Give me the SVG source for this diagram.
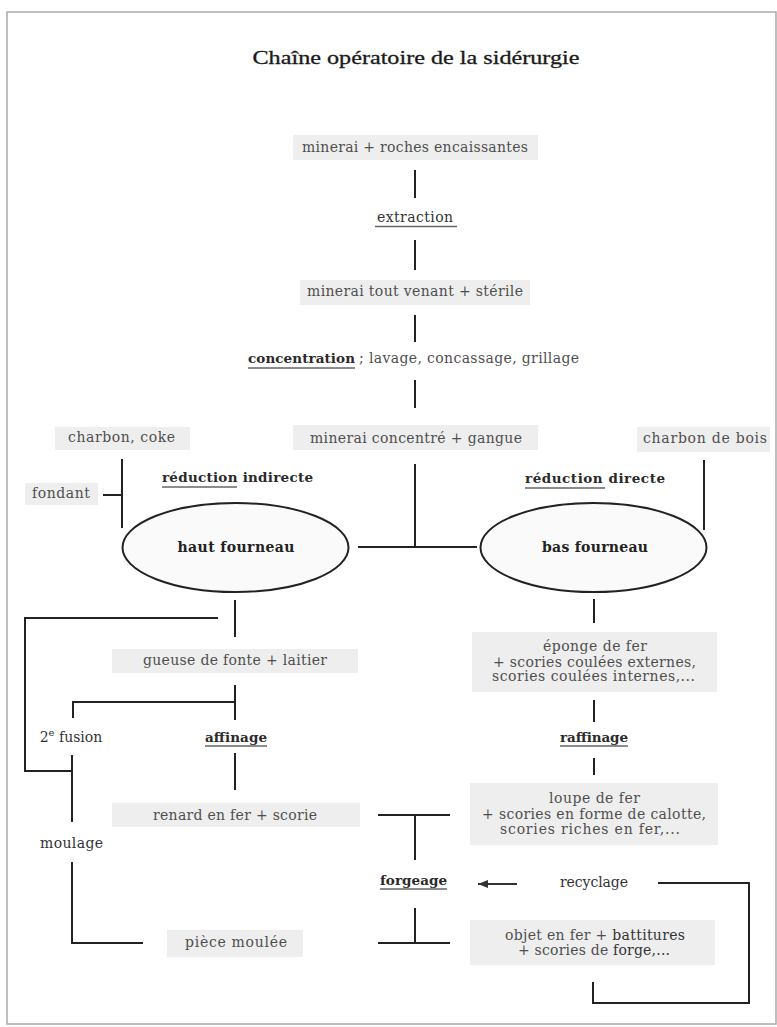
<svg xmlns="http://www.w3.org/2000/svg" width="777" height="1027" viewBox="0 0 777 1027">
<defs>
<style>
.bx{fill:#eeeeee}
.t{font-family:"DejaVu Serif",serif;font-size:14px;fill:#4f4f4f;text-anchor:middle}
.d{font-family:"DejaVu Serif",serif;font-size:14px;fill:#333;text-anchor:middle}
.b{font-family:"DejaVu Serif",serif;font-size:13.5px;fill:#2a2a2a;font-weight:bold;text-anchor:middle}
.e{font-family:"DejaVu Serif",serif;font-size:14px;fill:#222;font-weight:bold;text-anchor:middle}
.ln{stroke:#222;stroke-width:2;fill:none}
.ul{stroke:#666;stroke-width:1.5}
.el{fill:#fafafa;stroke:#222;stroke-width:2}
</style>
<marker id="ah" markerWidth="10" markerHeight="8" refX="10" refY="4" orient="auto" markerUnits="userSpaceOnUse">
<path d="M0,0 L10,4 L0,8 Z" fill="#333"/>
</marker>
</defs>
<rect width="777" height="1027" fill="#fff"/>
<rect x="7" y="12" width="769" height="1012" fill="none" stroke="#aaa" stroke-width="1.5"/>
<text x="416" y="64" font-family="Liberation Serif,serif" font-size="19" fill="#1a1a1a" stroke="#1a1a1a" stroke-width="0.3" text-anchor="middle" textLength="327" lengthAdjust="spacingAndGlyphs">Chaîne opératoire de la sidérurgie</text>

<g id="connectors">
<line class="ln" x1="415" y1="170" x2="415" y2="198"/>
<line class="ln" x1="415" y1="240" x2="415" y2="270"/>
<line class="ln" x1="415" y1="315" x2="415" y2="342"/>
<line class="ln" x1="415" y1="380" x2="415" y2="408"/>
<path class="ln" d="M415,464 V547 M358,547 H477"/>
<path class="ln" d="M103,495 H122 M122,459 V528"/>
<line class="ln" x1="704" y1="460" x2="704" y2="530"/>
<line class="ln" x1="235" y1="600" x2="235" y2="637"/>
<path class="ln" d="M218,618 H25 V771 H72"/>
<line class="ln" x1="235" y1="685" x2="235" y2="720"/>
<path class="ln" d="M235,702 H73 V718"/>
<line class="ln" x1="235" y1="753" x2="235" y2="790"/>
<line class="ln" x1="72" y1="755" x2="72" y2="822"/>
<path class="ln" d="M72,862 V943 H143"/>
<line class="ln" x1="594" y1="599" x2="594" y2="623"/>
<line class="ln" x1="594" y1="700" x2="594" y2="722"/>
<line class="ln" x1="594" y1="758" x2="594" y2="775"/>
<path class="ln" d="M378,815 H450 M415,815 V860"/>
<path class="ln" d="M415,908 V943 M378,943 H450"/>
<line x1="517" y1="884" x2="478" y2="884" stroke="#333" stroke-width="2" marker-end="url(#ah)"/>
<path class="ln" d="M658,883 H749 V1003 H593 V982"/>
</g>

<g id="n-minerai-roches"><rect class="bx" x="293" y="135" width="245" height="25"/><text class="t" x="415" y="152" textLength="226">minerai + roches encaissantes</text></g>
<g id="n-extraction"><text class="d" x="415" y="222" textLength="76">extraction</text><line class="ul" x1="375" y1="226.5" x2="457" y2="226.5"/></g>
<g id="n-tout-venant"><rect class="bx" x="300" y="280" width="230" height="25"/><text class="t" x="415" y="296" textLength="216">minerai tout venant + stérile</text></g>
<g id="n-concentration"><text class="b" x="301.5" y="363" textLength="107">concentration</text><line class="ul" x1="248" y1="368" x2="355" y2="368"/><text class="t" x="469" y="363" textLength="220">; lavage, concassage, grillage</text></g>
<g id="n-minerai-concentre"><rect class="bx" x="293" y="425" width="245" height="25"/><text class="t" x="416" y="443" textLength="212">minerai concentré + gangue</text></g>
<g id="n-charbon-coke"><rect class="bx" x="55" y="427" width="135" height="23"/><text class="t" x="121.5" y="442" textLength="107">charbon, coke</text></g>
<g id="n-charbon-bois"><rect class="bx" x="637" y="427" width="133" height="25"/><text class="t" x="705" y="443" textLength="124">charbon de bois</text></g>
<g id="n-fondant"><rect class="bx" x="25" y="483" width="73" height="22"/><text class="t" x="61" y="498" textLength="58">fondant</text></g>
<g id="n-reduction-indirecte"><text class="b" x="237.5" y="482" textLength="151">réduction indirecte</text><line class="ul" x1="162" y1="487" x2="237" y2="487"/></g>
<g id="n-reduction-directe"><text class="b" x="595" y="483" textLength="140">réduction directe</text><line class="ul" x1="525" y1="488" x2="605" y2="488"/></g>
<g id="n-haut-fourneau"><ellipse class="el" cx="235.5" cy="547.5" rx="113" ry="44.5"/><text class="e" x="236" y="552" textLength="117">haut fourneau</text></g>
<g id="n-bas-fourneau"><ellipse class="el" cx="593.5" cy="547.5" rx="113" ry="44.5"/><text class="e" x="595" y="552" textLength="106">bas fourneau</text></g>
<g id="n-gueuse"><rect class="bx" x="112" y="649" width="246" height="24"/><text class="t" x="235" y="665" textLength="184">gueuse de fonte + laitier</text></g>
<g id="n-2e-fusion"><text class="d" x="71" y="742">2<tspan font-size="10" dy="-6">e</tspan><tspan dy="6"> fusion</tspan></text></g>
<g id="n-affinage"><text class="b" x="236" y="742" textLength="62">affinage</text><line class="ul" x1="205" y1="746" x2="267" y2="746"/></g>
<g id="n-eponge"><rect class="bx" x="472" y="632" width="245" height="60"/><text class="t" x="595" y="651" textLength="104">éponge de fer</text><text class="t" x="594.5" y="667" textLength="203">+ scories coulées externes,</text><text class="t" x="593.5" y="681" textLength="203">scories coulées internes,...</text></g>
<g id="n-raffinage"><text class="b" x="594" y="742" textLength="68">raffinage</text><line class="ul" x1="560" y1="746" x2="628" y2="746"/></g>
<g id="n-renard"><rect class="bx" x="112" y="803" width="248" height="24"/><text class="t" x="235" y="820" textLength="164">renard en fer + scorie</text></g>
<g id="n-moulage"><text class="d" x="71.5" y="848" textLength="63">moulage</text></g>
<g id="n-loupe"><rect class="bx" x="470" y="783" width="248" height="62"/><text class="t" x="594.5" y="803" textLength="91">loupe de fer</text><text class="t" x="594" y="819" textLength="224">+ scories en forme de calotte,</text><text class="t" x="590" y="834" textLength="180">scories riches en fer,...</text></g>
<g id="n-forgeage"><text class="b" x="413.5" y="885" textLength="67">forgeage</text><line class="ul" x1="380" y1="889" x2="447" y2="889"/></g>
<g id="n-recyclage"><text class="d" x="594" y="887" textLength="68">recyclage</text></g>
<g id="n-objet"><rect class="bx" x="470" y="920" width="245" height="45"/><text class="t" x="595" y="940" textLength="180">objet en fer + <tspan fill="#333">battitures</tspan></text><text class="t" x="594" y="955" textLength="152">+ scories de <tspan fill="#333">forge,...</tspan></text></g>
<g id="n-piece"><rect class="bx" x="167" y="930" width="136" height="27"/><text class="t" x="236" y="947" textLength="102">pièce moulée</text></g>
</svg>
